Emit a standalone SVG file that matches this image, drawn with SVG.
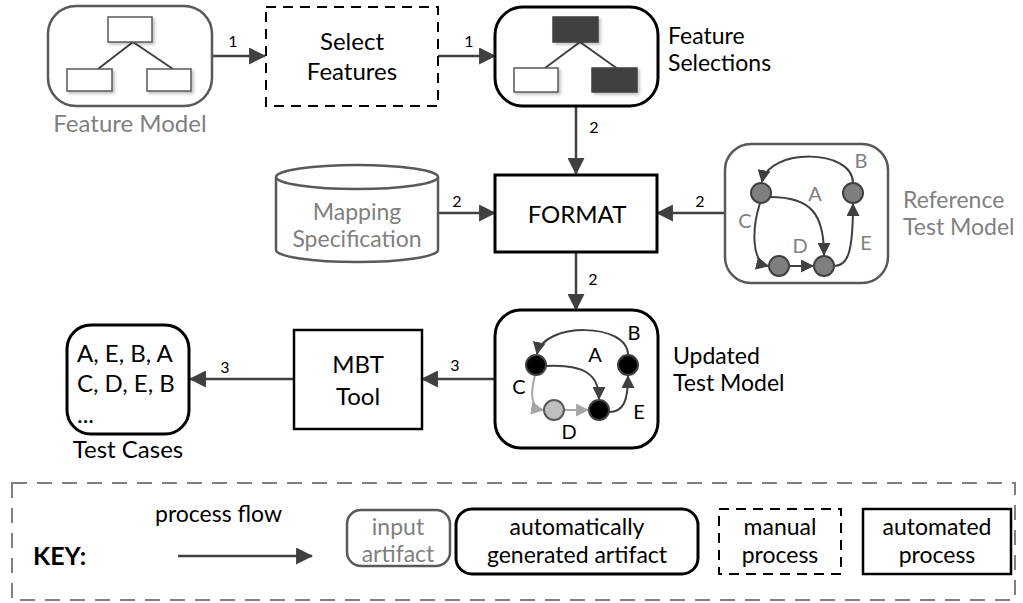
<svg xmlns="http://www.w3.org/2000/svg" width="1023" height="603" viewBox="0 0 1023 603">
  <style>
    text{font-family:Lato,"Liberation Sans",sans-serif;font-size:24px;fill:#000}
    .c{text-anchor:middle}
    .g{fill:#7f7f7f}
    .s{font-size:23px}
    .num{font-size:16px;text-anchor:middle}
    .lbl{font-size:20px;text-anchor:middle}
    .key{font-size:23px}
    .art{fill:#fff;stroke:#595959;stroke-width:2.5}
    .gen{fill:#fff;stroke:#000;stroke-width:3}
    .man{fill:#fff;stroke:#000;stroke-width:2;stroke-dasharray:10 7}
    .auto{fill:#fff;stroke:#000;stroke-width:2.5}
    .flow{stroke:#404040;stroke-width:2.5;fill:none;marker-end:url(#ah)}
    .edge{stroke:#404040;stroke-width:2;fill:none;marker-end:url(#sh)}
    .edgeL{stroke:#a6a6a6;stroke-width:2;fill:none;marker-end:url(#shL)}
    .mini{fill:#fff;stroke:#595959;stroke-width:1.5}
    .miniD{fill:#404040;stroke:#404040;stroke-width:1.5}
    .tree{stroke:#404040;stroke-width:2}
  </style>
  <defs>
    <marker id="ah" viewBox="0 0 16 16" refX="15" refY="8" markerWidth="17" markerHeight="17" markerUnits="userSpaceOnUse" orient="auto">
      <path d="M0,0 L16,8 L0,16 z" fill="#404040"/>
    </marker>
    <marker id="sh" viewBox="0 0 12 12" refX="11" refY="6" markerWidth="13" markerHeight="13" markerUnits="userSpaceOnUse" orient="auto">
      <path d="M0,0 L12,6 L0,12 z" fill="#404040"/>
    </marker>
    <marker id="shL" viewBox="0 0 12 12" refX="11" refY="6" markerWidth="13" markerHeight="13" markerUnits="userSpaceOnUse" orient="auto">
      <path d="M0,0 L12,6 L0,12 z" fill="#a6a6a6"/>
    </marker>
    <filter id="sd" x="-20%" y="-20%" width="150%" height="160%">
      <feDropShadow dx="2" dy="2" stdDeviation="1.5" flood-color="#000" flood-opacity="0.25"/>
    </filter>
  </defs>

  <!-- connectors -->
  <g id="connectors">
    <line class="flow" x1="212" y1="56" x2="265" y2="56"/>
    <text class="num" x="233" y="47">1</text>
    <line class="flow" x1="438" y1="56" x2="495" y2="56"/>
    <text class="num" x="469" y="47">1</text>
    <line class="flow" x1="576" y1="106" x2="576" y2="174"/>
    <text class="num" x="594" y="133">2</text>
    <line class="flow" x1="438" y1="213" x2="495" y2="213"/>
    <text class="num" x="457" y="207">2</text>
    <line class="flow" x1="725" y1="213" x2="657" y2="213"/>
    <text class="num" x="700" y="207">2</text>
    <line class="flow" x1="576" y1="252" x2="576" y2="310"/>
    <text class="num" x="593" y="285">2</text>
    <line class="flow" x1="495" y1="379" x2="422" y2="379"/>
    <text class="num" x="455" y="371">3</text>
    <line class="flow" x1="294" y1="379" x2="190" y2="379"/>
    <text class="num" x="225" y="373">3</text>
  </g>

  <!-- feature model (input artifact) -->
  <g id="feature-model">
    <rect class="art" x="48" y="6" width="164" height="100" rx="28"/>
    <line class="tree" x1="133" y1="42" x2="98" y2="69"/>
    <line class="tree" x1="133" y1="42" x2="173" y2="69"/>
    <g filter="url(#sd)">
      <rect class="mini" x="108" y="17" width="44" height="25"/>
      <rect class="mini" x="67" y="69" width="45" height="22"/>
      <rect class="mini" x="147" y="69" width="44" height="22"/>
    </g>
    <text class="c g" x="130" y="132">Feature Model</text>
  </g>

  <!-- manual selection step -->
  <g id="select-features">
    <rect class="man" x="266" y="7" width="172" height="99"/>
    <text class="c" x="352" y="50">Select</text>
    <text class="c" x="352" y="80">Features</text>
  </g>

  <!-- selected features -->
  <g id="feature-selections">
    <rect class="gen" x="495" y="7" width="163" height="99" rx="28"/>
    <line class="tree" x1="580" y1="42" x2="545" y2="68"/>
    <line class="tree" x1="580" y1="42" x2="622" y2="72"/>
    <g filter="url(#sd)">
      <rect class="miniD" x="553" y="17" width="45" height="25"/>
      <rect class="mini" x="514" y="68" width="44" height="24"/>
      <rect class="miniD" x="592" y="68" width="45" height="24"/>
    </g>
    <text class="s" x="668" y="44">Feature</text>
    <text class="s" x="668" y="71">Selections</text>
  </g>

  <!-- mapping specification (database) -->
  <g id="mapping-specification">
    <path class="art" d="M276,177 L276,250 A81,12 0 0 0 438,250 L438,177 A81,12 0 0 0 276,177 Z"/>
    <path class="art" d="M276,177 A81,12 0 0 0 438,177" fill="none"/>
    <text class="c g s" x="357" y="220">Mapping</text>
    <text class="c g s" x="357" y="247">Specification</text>
  </g>

  <!-- FORMAT process -->
  <g id="format">
    <rect class="gen" x="495" y="175" width="162" height="77"/>
    <text class="c" x="577" y="223">FORMAT</text>
  </g>

  <!-- reference test model -->
  <g id="reference-test-model">
    <rect class="art" x="725" y="144" width="163" height="139" rx="26"/>
    <path class="edge" d="M853,183 C853,148 768,148 762,182"/>
    <path class="edge" d="M770,197 C812,197 824,215 824,255"/>
    <path class="edge" d="M760,203 C752,228 751,262 768,266"/>
    <path class="edge" d="M789,266 L813,266"/>
    <path class="edge" d="M834,266 C848,266 853,252 853,204"/>
    <g fill="#7f7f7f" stroke="#404040" stroke-width="2">
      <circle cx="761" cy="193" r="10"/>
      <circle cx="853" cy="193" r="10"/>
      <circle cx="779" cy="266" r="10"/>
      <circle cx="824" cy="266" r="10"/>
    </g>
    <text class="lbl g" x="861" y="168">B</text>
    <text class="lbl g" x="815" y="201">A</text>
    <text class="lbl g" x="745" y="228">C</text>
    <text class="lbl g" x="800" y="253">D</text>
    <text class="lbl g" x="866" y="250">E</text>
    <text class="g s" x="903" y="208">Reference</text>
    <text class="g s" x="903" y="235">Test Model</text>
  </g>

  <!-- updated test model -->
  <g id="updated-test-model">
    <rect class="gen" x="495" y="310" width="163" height="138" rx="26"/>
    <path class="edge" d="M628,355 C628,322 543,322 537,354"/>
    <path class="edge" d="M546,366 C585,364 599,375 599,399"/>
    <path class="edgeL" d="M535,375 C530,395 531,408 543,410"/>
    <path class="edgeL" d="M564,410 L588,410"/>
    <path class="edge" d="M609,412 C624,412 628,400 628,376"/>
    <g stroke="#404040" stroke-width="2">
      <circle cx="536" cy="365" r="10" fill="#000"/>
      <circle cx="628" cy="365" r="10" fill="#000"/>
      <circle cx="554" cy="410" r="10" fill="#bfbfbf" stroke="#595959"/>
      <circle cx="599" cy="410" r="10" fill="#000"/>
    </g>
    <text class="lbl" x="634" y="340">B</text>
    <text class="lbl" x="595" y="362">A</text>
    <text class="lbl" x="519" y="394">C</text>
    <text class="lbl" x="569" y="439">D</text>
    <text class="lbl" x="639" y="419">E</text>
    <text class="s" x="673" y="364">Updated</text>
    <text class="s" x="673" y="391">Test Model</text>
  </g>

  <!-- MBT tool process -->
  <g id="mbt-tool">
    <rect class="auto" x="294" y="330" width="128" height="99"/>
    <text class="c" x="358" y="373">MBT</text>
    <text class="c" x="358" y="405">Tool</text>
  </g>

  <!-- generated test cases -->
  <g id="test-cases">
    <rect class="gen" x="67" y="325" width="122" height="109" rx="24"/>
    <text x="77" y="362">A, E, B, A</text>
    <text x="77" y="392">C, D, E, B</text>
    <text x="77" y="423">...</text>
    <text class="c" x="128" y="458">Test Cases</text>
  </g>

  <!-- legend -->
  <g id="key">
    <rect x="12" y="483" width="1003" height="117" fill="none" stroke="#808080" stroke-width="2" stroke-dasharray="15 10"/>
    <text x="33" y="565" style="font-weight:bold;font-size:25px">KEY:</text>
    <text class="key" x="155" y="522">process flow</text>
    <line class="flow" x1="178" y1="556" x2="312" y2="556"/>
    <rect class="art" x="347" y="510" width="103" height="56" rx="14"/>
    <text class="c g key" x="398" y="535">input</text>
    <text class="c g key" x="398" y="562">artifact</text>
    <rect class="gen" x="456" y="509" width="242" height="65" rx="16"/>
    <text class="c key" x="577" y="535">automatically</text>
    <text class="c key" x="577" y="563">generated artifact</text>
    <rect class="man" x="719" y="509" width="122" height="65"/>
    <text class="c key" x="780" y="535">manual</text>
    <text class="c key" x="780" y="563">process</text>
    <rect class="auto" x="863" y="509" width="148" height="65"/>
    <text class="c key" x="937" y="535">automated</text>
    <text class="c key" x="937" y="563">process</text>
  </g>
</svg>
